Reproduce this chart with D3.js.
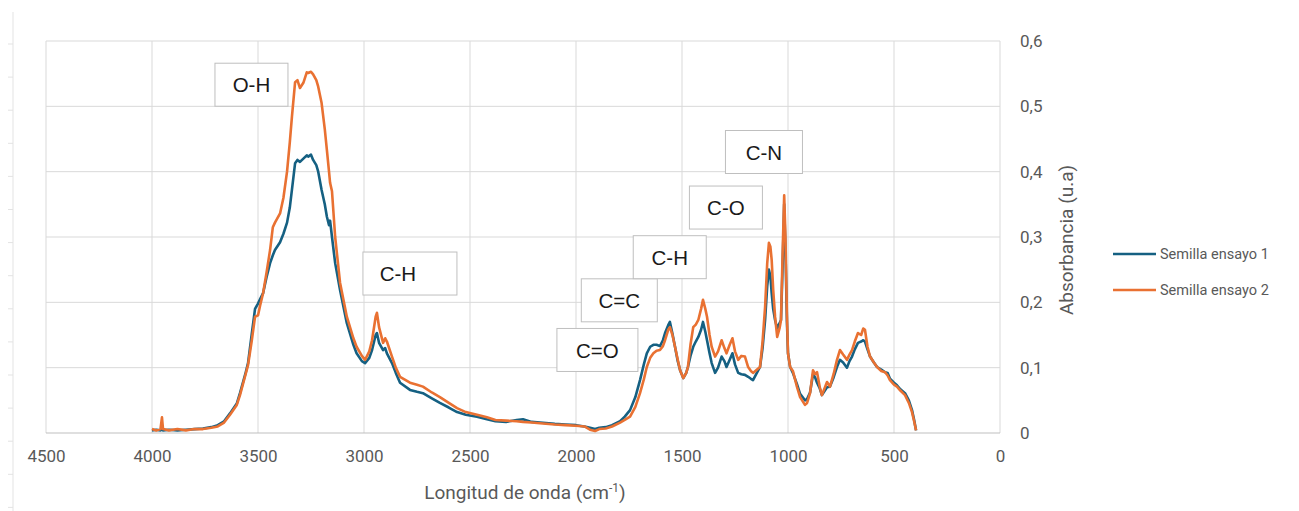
<!DOCTYPE html>
<html>
<head>
<meta charset="utf-8">
<script src="https://cdn.jsdelivr.net/npm/d3@7"></script>
<style>
  body { margin: 0; background: #fff; overflow: hidden; }
  svg { display: block; }
  svg text { font-family: Roboto, "Liberation Sans", sans-serif; }
</style>
</head>
<body>
<svg id="chart"></svg>
<script>
// spectrum (wavenumber in cm-1, absorbance)
var waveNumbers = [4000,3980,3960,3953,3948,3920,3880,3840,3800,3760,3720,3690,3660,3632,3600,3585,3560,3547,3530,3514,3500,3490,3476,3460,3443,3430,3420,3396,3380,3363,3350,3340,3325,3314,3302,3286,3270,3263,3250,3240,3225,3216,3200,3185,3175,3165,3160,3151,3136,3113,3081,3050,3035,3010,2995,2975,2962,2945,2939,2929,2910,2900,2892,2868,2850,2830,2783,2750,2722,2680,2642,2600,2561,2520,2467,2420,2380,2330,2280,2250,2210,2170,2100,2050,2000,1960,1934,1910,1890,1860,1830,1792,1770,1745,1720,1698,1680,1666,1650,1635,1620,1604,1590,1580,1565,1557,1545,1533,1520,1509,1494,1480,1472,1460,1447,1435,1423,1410,1401,1390,1382,1370,1360,1344,1330,1313,1300,1290,1275,1262,1250,1235,1220,1203,1188,1175,1165,1150,1132,1120,1108,1098,1090,1083,1077,1070,1061,1051,1040,1033,1025,1018,1012,1005,1000,990,977,958,943,920,910,896,882,872,863,850,840,816,802,785,769,755,740,722,710,698,685,670,655,645,637,625,613,595,580,560,542,530,519,500,486,470,448,430,415,405,396]

var ensayo1 = [0.004,0.005,0.004,0.005,0.004,0.005,0.004,0.005,0.006,0.007,0.009,0.012,0.018,0.030,0.045,0.061,0.090,0.107,0.150,0.190,0.198,0.205,0.214,0.238,0.260,0.272,0.280,0.292,0.305,0.322,0.345,0.372,0.413,0.418,0.415,0.420,0.425,0.423,0.426,0.418,0.410,0.400,0.372,0.350,0.331,0.318,0.325,0.300,0.260,0.219,0.168,0.135,0.122,0.110,0.107,0.115,0.127,0.150,0.153,0.138,0.127,0.130,0.122,0.107,0.092,0.077,0.066,0.063,0.061,0.053,0.046,0.039,0.032,0.028,0.025,0.021,0.018,0.017,0.020,0.021,0.017,0.016,0.014,0.013,0.012,0.010,0.008,0.006,0.008,0.009,0.012,0.018,0.025,0.035,0.055,0.081,0.105,0.122,0.132,0.135,0.135,0.133,0.142,0.153,0.165,0.170,0.152,0.132,0.110,0.096,0.084,0.092,0.101,0.118,0.132,0.140,0.147,0.158,0.170,0.155,0.142,0.122,0.107,0.092,0.100,0.117,0.110,0.101,0.112,0.122,0.105,0.092,0.090,0.089,0.086,0.083,0.081,0.090,0.101,0.130,0.173,0.225,0.250,0.240,0.214,0.190,0.173,0.160,0.168,0.173,0.260,0.350,0.280,0.170,0.122,0.101,0.092,0.075,0.060,0.050,0.052,0.062,0.090,0.085,0.077,0.068,0.058,0.070,0.071,0.085,0.101,0.112,0.108,0.100,0.110,0.117,0.128,0.138,0.140,0.142,0.140,0.128,0.117,0.108,0.101,0.097,0.093,0.092,0.083,0.077,0.073,0.067,0.061,0.050,0.035,0.020,0.004]

var ensayo2 = [0.006,0.004,0.006,0.024,0.006,0.004,0.006,0.004,0.006,0.006,0.008,0.010,0.016,0.028,0.043,0.058,0.088,0.104,0.140,0.178,0.180,0.195,0.214,0.245,0.280,0.315,0.322,0.336,0.360,0.400,0.445,0.484,0.537,0.540,0.528,0.536,0.552,0.551,0.553,0.549,0.540,0.530,0.505,0.465,0.433,0.400,0.383,0.370,0.300,0.230,0.178,0.145,0.132,0.118,0.112,0.125,0.142,0.178,0.184,0.162,0.138,0.145,0.140,0.117,0.100,0.086,0.077,0.074,0.071,0.062,0.055,0.046,0.038,0.032,0.028,0.024,0.020,0.019,0.018,0.017,0.016,0.015,0.013,0.012,0.011,0.010,0.005,0.003,0.006,0.007,0.010,0.016,0.020,0.025,0.040,0.061,0.082,0.101,0.115,0.122,0.126,0.127,0.133,0.142,0.158,0.162,0.150,0.132,0.112,0.096,0.084,0.092,0.101,0.135,0.162,0.166,0.173,0.190,0.204,0.190,0.178,0.150,0.132,0.117,0.125,0.142,0.130,0.122,0.135,0.145,0.125,0.112,0.118,0.117,0.101,0.095,0.092,0.096,0.101,0.140,0.193,0.260,0.291,0.285,0.265,0.220,0.178,0.147,0.160,0.173,0.280,0.364,0.300,0.180,0.122,0.101,0.095,0.071,0.055,0.043,0.046,0.061,0.096,0.090,0.093,0.070,0.058,0.078,0.071,0.090,0.112,0.127,0.120,0.112,0.120,0.127,0.140,0.153,0.150,0.160,0.158,0.132,0.117,0.108,0.101,0.095,0.093,0.088,0.081,0.074,0.071,0.065,0.058,0.046,0.032,0.018,0.004]

var seriesNames = ['Semilla ensayo 1', 'Semilla ensayo 2']
var seriesColors = ['#156082', '#E97132']

var xTicks = [4500, 4000, 3500, 3000, 2500, 2000, 1500, 1000, 500, 0]
var yTicks = [0, 0.1, 0.2, 0.3, 0.4, 0.5, 0.6]

// band labels: text and the wavenumber / absorbance of the box's top-left corner
var bandLabels = ['O-H', 'C-H', 'C=O', 'C=C', 'C-H', 'C-O', 'C-N']
var bandWn = [3703, 3005, 2090, 1975, 1730, 1465, 1295]
var bandAbs = [0.566, 0.277, 0.16, 0.236, 0.302, 0.378, 0.463]
var bandW = [73, 94, 81, 76, 73, 73, 77]

var width = 1299, height = 511
var margins = {top: 41, right: 299, bottom: 78, left: 46}
var innerWidth = width - margins.left - margins.right
var innerHeight = height - margins.top - margins.bottom

var svg = d3.select('svg#chart')
    .attr('width', width)
    .attr('height', height)

var xScale = d3.scaleLinear().domain([4500, 0]).range([0, innerWidth])
var yScale = d3.scaleLinear().domain([0, 0.6]).range([innerHeight, 0])

// stray axis stub at the far left of the picture
svg.append('line')
    .attr('x1', 13).attr('x2', 13).attr('y1', 12).attr('y2', height)
    .attr('stroke', '#e3e3e3')
d3.range(44, height, 33.1).forEach(function(y) {
    svg.append('line')
        .attr('x1', 8).attr('x2', 13).attr('y1', y).attr('y2', y)
        .attr('stroke', '#e3e3e3')
})

var plot = svg.append('g')
    .attr('transform', 'translate(' + margins.left + ',' + margins.top + ')')

// grid
plot.append('g').selectAll('line.v')
    .data(xTicks)
    .join('line')
    .attr('x1', d => xScale(d)).attr('x2', d => xScale(d))
    .attr('y1', 0).attr('y2', innerHeight)
    .attr('stroke', '#d9d9d9')
plot.append('g').selectAll('line.h')
    .data(yTicks)
    .join('line')
    .attr('x1', 0).attr('x2', innerWidth)
    .attr('y1', d => yScale(d)).attr('y2', d => yScale(d))
    .attr('stroke', d => d === 0 ? '#bfbfbf' : '#d9d9d9')

// axes (labels only)
var xAxis = d3.axisBottom(xScale).tickValues(xTicks).tickSize(0).tickPadding(17)
    .tickFormat(d => String(d))
plot.append('g')
    .attr('class', 'x axis')
    .attr('transform', 'translate(0,' + innerHeight + ')')
    .call(xAxis)
var yAxis = d3.axisRight(yScale).tickValues(yTicks).tickSize(0).tickPadding(20)
    .tickFormat(d => d === 0 ? '0' : d.toFixed(1).replace('.', ','))
plot.append('g')
    .attr('class', 'y axis')
    .attr('transform', 'translate(' + innerWidth + ',0)')
    .call(yAxis)
plot.selectAll('.axis .domain').remove()
plot.selectAll('.axis text')
    .attr('fill', '#595959')
    .style('font-size', '17px')

// series
var seriesValues = [ensayo1, ensayo2]
var line = d3.line()
    .x(d => xScale(d.wn))
    .y(d => yScale(d.v))
seriesValues.forEach(function(vals, i) {
    var pts = waveNumbers.map((wn, j) => ({wn: wn, v: vals[j]}))
    plot.append('path')
        .datum(pts)
        .attr('d', line)
        .attr('fill', 'none')
        .attr('stroke', seriesColors[i])
        .attr('stroke-width', 2.6)
        .attr('stroke-linejoin', 'round')
})

// band label boxes
bandLabels.forEach(function(lbl, i) {
    var bx = xScale(bandWn[i]), by = yScale(bandAbs[i])
    var g = plot.append('g').attr('transform', 'translate(' + bx + ',' + by + ')')
    g.append('rect')
        .attr('width', bandW[i]).attr('height', 43)
        .attr('fill', '#fff')
        .attr('stroke', '#bfbfbf')
    g.append('text')
        .attr('x', i === 1 ? 35 : bandW[i] / 2)
        .attr('y', 22)
        .attr('dy', '0.35em')
        .attr('text-anchor', 'middle')
        .attr('fill', '#1a1a1a')
        .style('font-family', '"Liberation Sans", Arial, sans-serif')
        .style('font-size', '20.5px')
        .text(lbl)
})

// axis titles
var xTitle = svg.append('text')
    .attr('x', margins.left + innerWidth * 0.502)
    .attr('y', 499)
    .attr('text-anchor', 'middle')
    .attr('fill', '#595959')
    .style('font-size', '19px')
xTitle.append('tspan').text('Longitud de onda (cm')
xTitle.append('tspan').attr('dy', -7).style('font-size', '12px').text('-1')
xTitle.append('tspan').attr('dy', 7).text(')')

svg.append('text')
    .attr('transform', 'translate(1073,240) rotate(-90)')
    .attr('text-anchor', 'middle')
    .attr('fill', '#595959')
    .style('font-size', '19px')
    .text('Absorbancia (u.a)')

// legend
seriesNames.forEach(function(name, i) {
    var y = 254 + i * 36
    svg.append('line')
        .attr('x1', 1113).attr('x2', 1156)
        .attr('y1', y).attr('y2', y)
        .attr('stroke', seriesColors[i])
        .attr('stroke-width', 2.6)
    svg.append('text')
        .attr('x', 1160).attr('y', y)
        .attr('dy', '0.35em')
        .attr('fill', '#595959')
        .style('font-size', '14.5px')
        .text(name)
})
</script>
</body>
</html>
